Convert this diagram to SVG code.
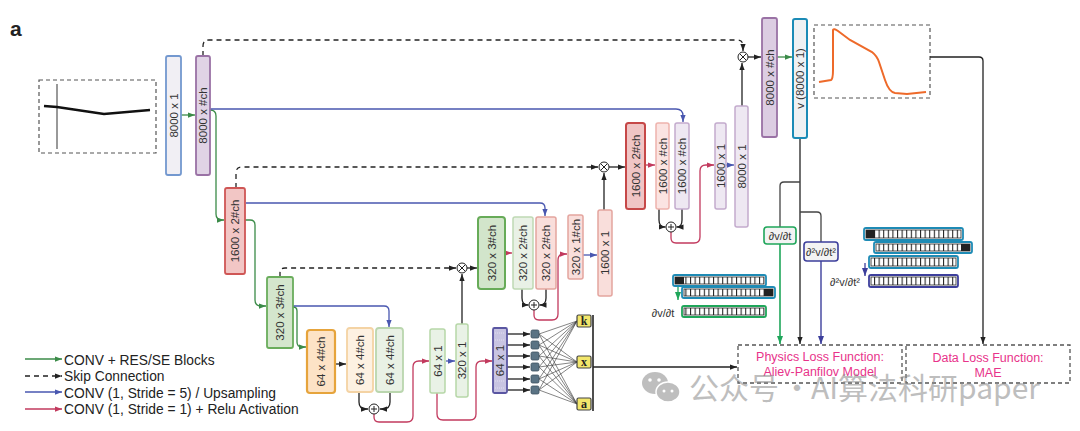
<svg xmlns="http://www.w3.org/2000/svg" width="1080" height="431" viewBox="0 0 1080 431">
<style>
.bl{font-family:"Liberation Sans",Arial,sans-serif;font-size:11.5px;fill:#333;text-anchor:middle;dominant-baseline:central}
.lg{font-family:"Liberation Sans",Arial,sans-serif;font-size:13.8px;fill:#222}
.loss{font-family:"Liberation Sans",Arial,sans-serif;font-size:12.5px;fill:#e8338a;text-anchor:middle}
.dl{font-family:"Liberation Sans",Arial,sans-serif;font-size:11px;fill:#333;text-anchor:middle;dominant-baseline:central}
.nn{font-family:"Liberation Serif","Times New Roman",serif;font-size:12px;font-weight:bold;fill:#222;text-anchor:middle;dominant-baseline:central}
.c{fill:none;stroke-width:1.3}
.g{stroke:#3b8b48}.b{stroke:#4957b0}.r{stroke:#c23a5e}.k{stroke:#222}
.dash{stroke-dasharray:5 4}
.op{fill:#fff;stroke:#222;stroke-width:1}
.strip{fill:#fff;stroke-width:1.8}
.cells{fill:url(#cellpat);stroke:#222;stroke-width:0.8}
</style>
<defs>
<marker id="ak" viewBox="0 0 8 6" refX="8" refY="3" markerWidth="7" markerHeight="5.5" orient="auto" markerUnits="userSpaceOnUse"><path d="M0,0 L8,3 L0,6 z" fill="#222"/></marker>
<marker id="ag" viewBox="0 0 8 6" refX="8" refY="3" markerWidth="7" markerHeight="5.5" orient="auto" markerUnits="userSpaceOnUse"><path d="M0,0 L8,3 L0,6 z" fill="#3b8b48"/></marker>
<marker id="ab" viewBox="0 0 8 6" refX="8" refY="3" markerWidth="7" markerHeight="5.5" orient="auto" markerUnits="userSpaceOnUse"><path d="M0,0 L8,3 L0,6 z" fill="#4957b0"/></marker>
<marker id="ar" viewBox="0 0 8 6" refX="8" refY="3" markerWidth="7" markerHeight="5.5" orient="auto" markerUnits="userSpaceOnUse"><path d="M0,0 L8,3 L0,6 z" fill="#c23a5e"/></marker>
<marker id="ag2" viewBox="0 0 8 6" refX="8" refY="3" markerWidth="8" markerHeight="6" orient="auto" markerUnits="userSpaceOnUse"><path d="M0,0 L8,3 L0,6 z" fill="#1fa65a"/></marker>
<marker id="ab2" viewBox="0 0 8 6" refX="8" refY="3" markerWidth="8" markerHeight="6" orient="auto" markerUnits="userSpaceOnUse"><path d="M0,0 L8,3 L0,6 z" fill="#3d3f9c"/></marker>
<pattern id="cellpat" width="4.6" height="20" patternUnits="userSpaceOnUse"><rect width="4.6" height="20" fill="#fff"/><line x1="0.5" y1="0" x2="0.5" y2="20" stroke="#222" stroke-width="1.1"/></pattern>
</defs>
<rect width="1080" height="431" fill="#fff"/>
<text x="10" y="36" font-family="Liberation Sans,Arial,sans-serif" font-size="21" font-weight="bold" fill="#222">a</text>

<g id="input-signal">
<rect x="39" y="80" width="117" height="73" fill="none" stroke="#555" stroke-width="1.2" stroke-dasharray="4 3"/>
<line x1="57" y1="84" x2="57" y2="149" stroke="#555" stroke-width="1.2"/>
<path d="M44,106 L57,107 L104,114 L150,110" fill="none" stroke="#111" stroke-width="2.5"/>
</g>

<g id="output-signal">
<rect x="814" y="25" width="116" height="73" fill="none" stroke="#555" stroke-width="1.2" stroke-dasharray="4 3"/>
<path d="M819,82 L831,80 Q833,79 833,70 L833,30 Q834,28 838,31 L850,40 L872,52 Q877,56 879,62 L885,80 Q889,92 895,93 L907,94 L926,92" fill="none" stroke="#ee6a2a" stroke-width="2"/>
</g>

<g id="connectors">
<path class="c g" d="M181,115 H195" marker-end="url(#ag)"/>
<path class="c g" d="M210,110 Q216,110 216,116 V214 Q216,220 222,220 H224" marker-end="url(#ag)"/>
<path class="c g" d="M245,220 H250 Q255,220 255,225 V300 Q255,306 261,306 H266" marker-end="url(#ag)"/>
<path class="c g" d="M293,307 Q297,307 297,311 V342 Q297,347 302,347 H306" marker-end="url(#ag)"/>
<path class="c g" d="M777,57 H792" marker-end="url(#ag)"/>
<path class="c b" d="M210,109 H676 Q683,109 683,116 V122" marker-end="url(#ab)"/>
<path class="c b" d="M246,203 H540 Q545,203 545,208 V216" marker-end="url(#ab)"/>
<path class="c b" d="M293,306 H384 Q389,306 389,311 V327" marker-end="url(#ab)"/>
<path class="c b" d="M446,361 H455" marker-end="url(#ab)"/>
<path class="c b" d="M583,255 H597" marker-end="url(#ab)"/>
<path class="c b" d="M726,165 H734" marker-end="url(#ab)"/>
<path class="c r" d="M645,165 H655" marker-end="url(#ar)"/>
<path class="c r" d="M671,232 V238 Q671,243 676,243 H694 Q700,243 700,237 V171 Q700,165 706,165 H714" marker-end="url(#ar)"/>
<path class="c r" d="M505,253 H512" marker-end="url(#ar)"/>
<path class="c r" d="M534,310 V315 Q534,320 539,320 H552 Q558,320 558,314 V260 Q558,254 564,254 H567" marker-end="url(#ar)"/>
<path class="c r" d="M374,414 V417 Q374,422 379,422 H407 Q413,422 413,416 V367 Q413,361 419,361 H429" marker-end="url(#ar)"/>
<path class="c r" d="M437,393 V414 Q437,420 443,420 H470 Q476,420 476,414 V367 Q476,361 482,361 H492" marker-end="url(#ar)"/>
<path class="c k dash" d="M203,56 V46 Q203,40 209,40 H737 Q743,40 743,46 V51" marker-end="url(#ak)"/>
<path class="c k dash" d="M236,188 V173 Q236,167 242,167 H598" marker-end="url(#ak)"/>
<path class="c k dash" d="M280,277 V273 Q280,268 285,268 H456" marker-end="url(#ak)"/>
<path class="c k" d="M742,106 V63" marker-end="url(#ak)"/>
<path class="c k" d="M748,57 H761" marker-end="url(#ak)"/>
<path class="c k" d="M604,210 V173" marker-end="url(#ak)"/>
<path class="c k" d="M609,167 H625" marker-end="url(#ak)"/>
<path class="c k" d="M462,324 V274" marker-end="url(#ak)"/>
<path class="c k" d="M467,268 H477" marker-end="url(#ak)"/>
<path class="c k" d="M336,364 H346" marker-end="url(#ak)"/>
<path class="c k" d="M359,392 V402 Q359,409 366,409 H368" marker-end="url(#ak)"/>
<path class="c k" d="M390,392 V402 Q390,409 383,409 H380" marker-end="url(#ak)"/>
<path class="c k" d="M522,289 V298 Q522,305 528,305 H528.5" marker-end="url(#ak)"/>
<path class="c k" d="M546,289 V298 Q546,305 540,305 H539.5" marker-end="url(#ak)"/>
<path class="c k" d="M659,209 V220 Q659,227 665,227 H665.5" marker-end="url(#ak)"/>
<path class="c k" d="M682,209 V220 Q682,227 677,227 H676.5" marker-end="url(#ak)"/>
<path class="c k" d="M507,334 H530" marker-end="url(#ak)"/>
<path class="c k" d="M507,345 H530" marker-end="url(#ak)"/>
<path class="c k" d="M507,356 H530" marker-end="url(#ak)"/>
<path class="c k" d="M507,367 H530" marker-end="url(#ak)"/>
<path class="c k" d="M507,379 H530" marker-end="url(#ak)"/>
<path class="c k" d="M507,390 H530" marker-end="url(#ak)"/>
<g stroke="#333" stroke-width="0.6" fill="none">
<path d="M539,334 L577,321 M539,334 L577,362 M539,334 L577,404"/>
<path d="M539,345 L577,321 M539,345 L577,362 M539,345 L577,404"/>
<path d="M539,356 L577,321 M539,356 L577,362 M539,356 L577,404"/>
<path d="M539,367 L577,321 M539,367 L577,362 M539,367 L577,404"/>
<path d="M539,379 L577,321 M539,379 L577,362 M539,379 L577,404"/>
<path d="M539,390 L577,321 M539,390 L577,362 M539,390 L577,404"/>
</g>
<path d="M593,315 V411" stroke="#222" stroke-width="1.6" fill="none"/>
<path class="c k" d="M593,367 H737" marker-end="url(#ak)"/>
<path class="c k" d="M930,57 H979 Q983,57 983,61 V344" marker-end="url(#ak)"/>
<path class="c k" d="M800,138 V344" marker-end="url(#ak)"/>
<path class="c k" d="M800,182 H784 Q780,182 780,186 V227" style="stroke:#444"/>
<path class="c k" d="M800,212 H817 Q821,212 821,216 V242" style="stroke:#444"/>
<path d="M780,244 V344" fill="none" stroke="#1fa65a" stroke-width="1.6" marker-end="url(#ag2)"/>
<path d="M821,261 V344" fill="none" stroke="#3d3f9c" stroke-width="1.4" marker-end="url(#ab2)"/>
<path d="M678,287 V300" fill="none" stroke="#1fa65a" stroke-width="1.3" marker-end="url(#ag2)"/>
<path d="M865,263 V276" fill="none" stroke="#3d3f9c" stroke-width="1.3" marker-end="url(#ab2)"/>
</g>

<g id="ops">
<g id="mul1"><circle class="op" cx="743" cy="57" r="5"/><path d="M740,54 L746,60 M746,54 L740,60" stroke="#222" stroke-width="1"/></g>
<g id="mul2"><circle class="op" cx="604" cy="167" r="5"/><path d="M601,164 L607,170 M607,164 L601,170" stroke="#222" stroke-width="1"/></g>
<g id="mul3"><circle class="op" cx="462" cy="268" r="5"/><path d="M459,265 L465,271 M465,265 L459,271" stroke="#222" stroke-width="1"/></g>
<g id="add1"><circle class="op" cx="374" cy="409" r="5"/><path d="M371,409 H377 M374,406 V412" stroke="#222" stroke-width="1"/></g>
<g id="add2"><circle class="op" cx="534" cy="305" r="5"/><path d="M531,305 H537 M534,302 V308" stroke="#222" stroke-width="1"/></g>
<g id="add3"><circle class="op" cx="671" cy="227" r="5"/><path d="M668,227 H674 M671,224 V230" stroke="#222" stroke-width="1"/></g>
</g>

<g id="b1"><rect x="166" y="56" width="15" height="119" rx="2" fill="#f1eff4" stroke="#7398cf" stroke-width="1.8"/><text class="bl" transform="translate(173.5,115.5) rotate(-90)">8000 x 1</text></g>
<g id="b2"><rect x="196" y="56" width="14" height="119" rx="2" fill="#e0d3e5" stroke="#9a72a5" stroke-width="1.8"/><text class="bl" transform="translate(203,115.5) rotate(-90)">8000 x #ch</text></g>
<g id="b3"><rect x="225" y="188" width="20" height="86" rx="2" fill="#f2c6c5" stroke="#cf5655" stroke-width="1.8"/><text class="bl" transform="translate(235,231) rotate(-90)">1600 x 2#ch</text></g>
<g id="b4"><rect x="267" y="277" width="26" height="71" rx="2" fill="#d4e6cd" stroke="#6aad5c" stroke-width="1.8"/><text class="bl" transform="translate(280,312.5) rotate(-90)">320 x 3#ch</text></g>
<g id="b5"><rect x="307" y="330" width="28" height="63" rx="3" fill="#fde3c6" stroke="#e6a43c" stroke-width="2.2"/><text class="bl" transform="translate(321,361.5) rotate(-90)">64 x 4#ch</text></g>
<g id="b6"><rect x="347" y="328" width="26" height="64" rx="3" fill="#fdf1e2" stroke="#f4d3a4" stroke-width="1.8"/><text class="bl" transform="translate(360,360) rotate(-90)">64 x 4#ch</text></g>
<g id="b7"><rect x="376" y="328" width="27" height="64" rx="3" fill="#e9f1e5" stroke="#bad6ae" stroke-width="1.8"/><text class="bl" transform="translate(389.5,360) rotate(-90)">64 x 4#ch</text></g>
<g id="b8"><rect x="430" y="329" width="15" height="64" rx="2" fill="#e9f2e6" stroke="#b6d7a8" stroke-width="1.5"/><text class="bl" transform="translate(437.5,361) rotate(-90)">64 x 1</text></g>
<g id="b9"><rect x="456" y="324" width="12" height="73" rx="2" fill="#e9f2e6" stroke="#b6d7a8" stroke-width="1.5"/><text class="bl" transform="translate(462,360.5) rotate(-90)">320 x 1</text></g>
<g id="b10"><rect x="493" y="328" width="14" height="65" rx="1.5" fill="#c8c4e2" stroke="#5a56a2" stroke-width="1.8"/><g stroke="#eeedf7" stroke-width="0.7" stroke-dasharray="1 1"><path d="M495,333 H505 M495,340 H505 M495,347 H505 M495,374 H505 M495,381 H505 M495,388 H505"/></g><text class="bl" transform="translate(500,360.5) rotate(-90)">64 x 1</text></g>
<g id="b11"><rect x="478" y="217" width="27" height="72" rx="3" fill="#d2e5cb" stroke="#67ab58" stroke-width="2"/><text class="bl" transform="translate(491.5,253) rotate(-90)">320 x 3#ch</text></g>
<g id="b12"><rect x="513" y="217" width="20" height="72" rx="2" fill="#e9f1e6" stroke="#bfd9b4" stroke-width="1.5"/><text class="bl" transform="translate(523,253) rotate(-90)">320 x 2#ch</text></g>
<g id="b13"><rect x="536" y="217" width="20" height="72" rx="2" fill="#f9dedb" stroke="#e4a59f" stroke-width="1.5"/><text class="bl" transform="translate(546,253) rotate(-90)">320 x 2#ch</text></g>
<g id="b14"><rect x="568" y="215" width="15" height="64" rx="2" fill="#f9dedb" stroke="#e4a59f" stroke-width="1.5"/><text class="bl" transform="translate(575.5,247) rotate(-90)">320 x 1#ch</text></g>
<g id="b15"><rect x="598" y="210" width="14" height="86" rx="2" fill="#f9dedb" stroke="#e4a59f" stroke-width="1.5"/><text class="bl" transform="translate(605,253) rotate(-90)">1600 x 1</text></g>
<g id="b16"><rect x="626" y="123" width="19" height="86" rx="2.5" fill="#f0c5c5" stroke="#c64848" stroke-width="2"/><text class="bl" transform="translate(635.5,166) rotate(-90)">1600 x 2#ch</text></g>
<g id="b17"><rect x="656" y="123" width="13" height="86" rx="2" fill="#fbe4e2" stroke="#eeb3ad" stroke-width="1.5"/><text class="bl" transform="translate(662.5,166) rotate(-90)">1600 x #ch</text></g>
<g id="b18"><rect x="675" y="123" width="14" height="86" rx="2" fill="#eee8f2" stroke="#c3abcd" stroke-width="1.5"/><text class="bl" transform="translate(682,166) rotate(-90)">1600 x #ch</text></g>
<g id="b19"><rect x="715" y="123" width="11" height="86" rx="2" fill="#eee8f2" stroke="#c3abcd" stroke-width="1.5"/><text class="bl" transform="translate(720.5,166) rotate(-90)">1600 x 1</text></g>
<g id="b20"><rect x="735" y="106" width="13" height="121" rx="2" fill="#eee8f2" stroke="#c3abcd" stroke-width="1.5"/><text class="bl" transform="translate(741.5,166.5) rotate(-90)">8000 x 1</text></g>
<g id="b21"><rect x="762" y="18" width="15" height="119" rx="2" fill="#dccde2" stroke="#9a72a5" stroke-width="1.8"/><text class="bl" transform="translate(769.5,77.5) rotate(-90)">8000 x #ch</text></g>
<g id="b22"><rect x="793" y="19" width="14" height="119" rx="2" fill="#eff1f3" stroke="#1b8bb6" stroke-width="2"/><text class="bl" transform="translate(800,78.5) rotate(-90)">v (8000 x 1)</text></g>

<g id="nn-hidden" fill="#5a7384" stroke="#3e5260" stroke-width="0.8">
<rect x="531" y="330" width="8" height="8" rx="1.5"/>
<rect x="531" y="341" width="8" height="8" rx="1.5"/>
<rect x="531" y="352" width="8" height="8" rx="1.5"/>
<rect x="531" y="363" width="8" height="8" rx="1.5"/>
<rect x="531" y="375" width="8" height="8" rx="1.5"/>
<rect x="531" y="386" width="8" height="8" rx="1.5"/>
</g>
<g id="out-k"><rect x="577" y="315" width="14" height="12" rx="1.5" fill="#f2e66b" stroke="#444" stroke-width="1.2"/><text class="nn" x="584" y="321">k</text></g>
<g id="out-x"><rect x="577" y="356" width="14" height="12" rx="1.5" fill="#f2e66b" stroke="#444" stroke-width="1.2"/><text class="nn" x="584" y="361.5">x</text></g>
<g id="out-a"><rect x="577" y="398" width="14" height="12" rx="1.5" fill="#f2e66b" stroke="#444" stroke-width="1.2"/><text class="nn" x="584" y="403.5">a</text></g>

<g id="dvdt"><rect x="764" y="227" width="32" height="17" rx="3" fill="#f3f3f3" stroke="#1fa65a" stroke-width="1.6"/><text class="dl" x="780" y="235.5">∂v/∂t</text></g>
<g id="d2vdt2"><rect x="804" y="242" width="34" height="19" rx="3" fill="#f3f3f3" stroke="#3d3f9c" stroke-width="1.6"/><text class="dl" x="821" y="251.5">∂²v/∂t²</text></g>

<g id="strips-dvdt">
<rect class="strip" x="673" y="275" width="93" height="11" rx="2" stroke="#1e8bb5"/><rect class="cells" x="675" y="277" width="89" height="7"/><rect x="675" y="277" width="9" height="7" fill="#222"/>
<rect class="strip" x="682" y="287" width="93" height="11" rx="2" stroke="#1e8bb5"/><rect class="cells" x="684" y="289" width="89" height="7"/><rect x="764" y="289" width="9" height="7" fill="#222"/>
<rect class="strip" x="682" y="306" width="84" height="11" rx="2" stroke="#1fa65a"/><rect class="cells" x="684" y="308" width="80" height="7"/>
<text class="dl" x="663" y="313">∂v/∂t</text>
</g>
<g id="strips-d2vdt2">
<rect class="strip" x="864" y="228" width="99" height="12" rx="2" stroke="#1e8bb5"/><rect class="cells" x="866" y="230" width="95" height="8"/><rect x="866" y="230" width="9" height="8" fill="#222"/>
<rect class="strip" x="874" y="242" width="98" height="11" rx="2" stroke="#1e8bb5"/><rect class="cells" x="876" y="244" width="94" height="7"/><rect x="961" y="244" width="9" height="7" fill="#222"/>
<rect class="strip" x="869" y="256" width="89" height="12" rx="2" stroke="#1e8bb5"/><rect class="cells" x="871" y="258" width="85" height="8"/>
<rect class="strip" x="869" y="275" width="89" height="12" rx="2" stroke="#3d3f9c"/><rect class="cells" x="871" y="277" width="85" height="8"/>
<text class="dl" x="845" y="282">∂²v/∂t²</text>
</g>

<g id="physics-loss"><rect x="738" y="345" width="164" height="38" fill="none" stroke="#555" stroke-width="1.3" stroke-dasharray="4 3"/><text class="loss" x="820" y="361">Physics Loss Function:</text><text class="loss" x="820" y="376">Aliev-Panfilov Model</text></g>
<g id="data-loss"><rect x="906" y="345" width="164" height="38" fill="none" stroke="#555" stroke-width="1.3" stroke-dasharray="4 3"/><text class="loss" x="988" y="362">Data Loss Function:</text><text class="loss" x="988" y="377">MAE</text></g>

<g id="legend">
<path class="c g" d="M25,359 H62" marker-end="url(#ag)"/>
<path class="c k dash" d="M25,376 H62" marker-end="url(#ak)"/>
<path class="c b" d="M25,392 H62" marker-end="url(#ab)"/>
<path class="c r" d="M25,409 H62" marker-end="url(#ar)"/>
<text class="lg" x="64" y="364.5">CONV + RES/SE Blocks</text>
<text class="lg" x="64" y="381">Skip Connection</text>
<text class="lg" x="64" y="397.5">CONV (1, Stride = 5) / Upsampling</text>
<text class="lg" x="64" y="414">CONV (1, Stride = 1) + Relu Activation</text>
</g>

<g id="watermark" opacity="0.55">
<ellipse cx="655" cy="383" rx="13" ry="11" fill="#8a8a8a"/>
<ellipse cx="668" cy="392" rx="12" ry="10" fill="#8a8a8a" stroke="#fff" stroke-width="1.5"/>
<circle cx="650" cy="380" r="1.8" fill="#fff"/><circle cx="659" cy="380" r="1.8" fill="#fff"/>
<circle cx="664" cy="391" r="1.5" fill="#fff"/><circle cx="672" cy="391" r="1.5" fill="#fff"/>
<text x="689" y="399" font-family="Noto Sans CJK SC,sans-serif" font-size="30" fill="#8a8a8a">公众号</text>
<text x="797" y="399" font-family="Noto Sans CJK SC,sans-serif" font-size="30" fill="#8a8a8a" text-anchor="middle">·</text>
<text x="811" y="399" font-family="Noto Sans CJK SC,sans-serif" font-size="30" fill="#8a8a8a">AI算法科研paper</text>
</g>
</svg>
